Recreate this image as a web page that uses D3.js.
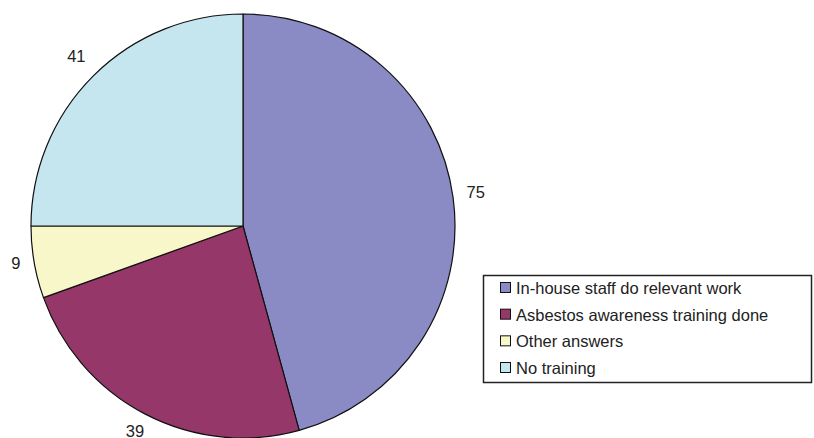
<!DOCTYPE html>
<html>
<head>
<meta charset="utf-8">
<script src="https://cdn.jsdelivr.net/npm/d3@7/dist/d3.min.js"></script>
<style>
  html, body { margin: 0; padding: 0; background: #fff; }
  svg { display: block; font-family: "Liberation Sans", Arial, sans-serif; }
</style>
</head>
<body>
<svg id="chart" width="814" height="438"></svg>
<script>
// Survey answers about asbestos training
const categories = [
  "In-house staff do relevant work",
  "Asbestos awareness training done",
  "Other answers",
  "No training"
];
const counts = [75, 39, 9, 41];
const colors = ["#8a8ac5", "#963769", "#f8f7c9", "#c5e6ef"];

const W = 814, H = 438;
const cx = 243, cy = 226, radius = 212;
const fontSize = 16.5;

const svg = d3.select("#chart");

const data = categories.map((c, i) => ({ name: c, value: counts[i], color: colors[i] }));

const pie = d3.pie().value(d => d.value).sort(null);
const arcs = pie(data);
const arc = d3.arc().innerRadius(0).outerRadius(radius);

const g = svg.append("g").attr("transform", `translate(${cx},${cy})`);

g.selectAll("path.slice")
  .data(arcs)
  .join("path")
  .attr("class", "slice")
  .attr("d", arc)
  .attr("fill", d => d.data.color)
  .attr("stroke", "#111")
  .attr("stroke-width", 1.2)
  .attr("stroke-linejoin", "round");

// Value labels sit outside the rim, pushed out by the half-extent of the text box
g.selectAll("text.value")
  .data(arcs)
  .join("text")
  .attr("class", "value")
  .attr("text-anchor", "middle")
  .attr("dominant-baseline", "central")
  .attr("font-size", fontSize)
  .attr("fill", "#222")
  .text(d => d.data.value)
  .each(function(d) {
    const a = (d.startAngle + d.endAngle) / 2;
    const s = Math.sin(a), c = Math.cos(a);
    const hw = String(d.data.value).length * 0.556 * fontSize / 2;
    const hh = 0.36 * fontSize;
    const r = radius + 13 + Math.abs(s) * hw + Math.abs(c) * hh;
    d3.select(this).attr("x", r * s).attr("y", -r * c - 3);
  });

// Legend
const lg = svg.append("g");
lg.append("rect")
  .attr("x", 483.5).attr("y", 275.5)
  .attr("width", 328).attr("height", 107)
  .attr("fill", "#fff")
  .attr("stroke", "#222")
  .attr("stroke-width", 1.5);

const rowY = d3.scalePoint().domain(categories).range([288, 368]);

const rows = lg.selectAll("g.row")
  .data(data)
  .join("g")
  .attr("class", "row")
  .attr("transform", d => `translate(0,${rowY(d.name)})`);

rows.append("rect")
  .attr("x", 500.5).attr("y", -5.5)
  .attr("width", 10).attr("height", 10)
  .attr("fill", d => d.color)
  .attr("stroke", "#111")
  .attr("stroke-width", 1);

rows.append("text")
  .attr("x", 516)
  .attr("y", 0)
  .attr("dominant-baseline", "central")
  .attr("font-size", fontSize)
  .attr("fill", "#222")
  .text(d => d.name);
</script>
</body>
</html>
